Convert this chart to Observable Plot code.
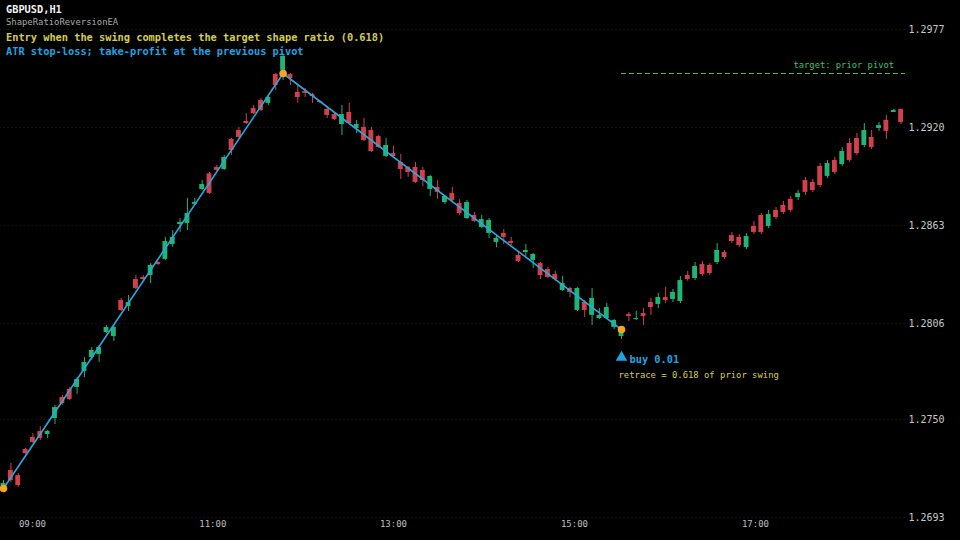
<!DOCTYPE html>
<html><head><meta charset="utf-8">
<style>
html,body{margin:0;padding:0;background:#000;width:960px;height:540px;overflow:hidden}
#wrap{position:relative;width:960px;height:540px}
.hdr{position:absolute;left:6px;white-space:pre;font-family:"DejaVu Sans Mono",monospace;line-height:1}
</style>
<script src="https://cdn.jsdelivr.net/npm/d3@7"></script>
<script src="https://cdn.jsdelivr.net/npm/@observablehq/plot@0.6"></script>
</head><body><div id="wrap"></div>
<script>
const opens=[1.27110,1.27204,1.27174,1.27326,1.27396,1.27431,1.27413,1.27506,1.27628,1.27675,1.27687,1.27780,1.27861,1.27879,1.28007,1.27983,1.28193,1.28158,1.28315,1.28327,1.28338,1.28414,1.28432,1.28519,1.28635,1.28641,1.28752,1.28839,1.28930,1.28967,1.28955,1.29130,1.29182,1.29235,1.29310,1.29357,1.29340,1.29508,1.29532,1.29508,1.29404,1.29409,1.29392,1.29351,1.29305,1.29275,1.29217,1.29287,1.29194,1.29200,1.29182,1.29147,1.29031,1.29048,1.28996,1.28967,1.28967,1.28950,1.28839,1.28851,1.28763,1.28816,1.28757,1.28670,1.28688,1.28618,1.28583,1.28531,1.28583,1.28536,1.28455,1.28472,1.28426,1.28408,1.28373,1.28344,1.28251,1.28263,1.28135,1.28181,1.28106,1.28088,1.28088,1.28036,1.27983,1.28111,1.28082,1.28117,1.28181,1.28170,1.28210,1.28199,1.28187,1.28338,1.28321,1.28402,1.28397,1.28414,1.28472,1.28571,1.28560,1.28501,1.28624,1.28688,1.28624,1.28717,1.28746,1.28781,1.28792,1.28891,1.28880,1.28973,1.28915,1.29008,1.28984,1.29107,1.29136,1.29095,1.29142,1.29194,1.29241,1.29287,1.29305];
const closes=[1.27128,1.27145,1.27116,1.27302,1.27367,1.27390,1.27431,1.27570,1.27593,1.27617,1.27733,1.27832,1.27902,1.27919,1.28036,1.28036,1.28135,1.28181,1.28263,1.28315,1.28397,1.28402,1.28536,1.28560,1.28647,1.28699,1.28763,1.28868,1.28816,1.28950,1.29025,1.29066,1.29142,1.29223,1.29281,1.29299,1.29374,1.29444,1.29613,1.29485,1.29374,1.29398,1.29380,1.29345,1.29270,1.29246,1.29275,1.29223,1.29217,1.29124,1.29060,1.29083,1.29095,1.29031,1.28955,1.28938,1.28880,1.28891,1.28915,1.28822,1.28798,1.28775,1.28699,1.28763,1.28653,1.28664,1.28659,1.28554,1.28560,1.28525,1.28420,1.28484,1.28461,1.28338,1.28327,1.28315,1.28292,1.28240,1.28263,1.28135,1.28205,1.28106,1.28152,1.28077,1.28018,1.28100,1.28088,1.28100,1.28152,1.28210,1.28193,1.28240,1.28309,1.28315,1.28391,1.28344,1.28350,1.28484,1.28443,1.28536,1.28513,1.28565,1.28589,1.28589,1.28693,1.28676,1.28705,1.28717,1.28816,1.28822,1.28833,1.28862,1.28990,1.28938,1.29060,1.29008,1.29048,1.29182,1.29083,1.29211,1.29177,1.29299,1.29229];
const highs=[1.27145,1.27244,1.27186,1.27332,1.27419,1.27460,1.27436,1.27582,1.27640,1.27687,1.27745,1.27861,1.27919,1.27931,1.28047,1.28047,1.28205,1.28222,1.28338,1.28338,1.28408,1.28420,1.28560,1.28600,1.28670,1.28787,1.28787,1.28891,1.28938,1.28979,1.29037,1.29136,1.29200,1.29281,1.29328,1.29369,1.29386,1.29514,1.29619,1.29514,1.29444,1.29427,1.29398,1.29357,1.29316,1.29281,1.29328,1.29340,1.29241,1.29252,1.29200,1.29153,1.29136,1.29089,1.29043,1.28973,1.28996,1.28967,1.28920,1.28891,1.28804,1.28851,1.28781,1.28775,1.28705,1.28688,1.28670,1.28571,1.28606,1.28560,1.28472,1.28519,1.28466,1.28414,1.28385,1.28362,1.28333,1.28269,1.28269,1.28193,1.28263,1.28146,1.28175,1.28082,1.28024,1.28123,1.28129,1.28146,1.28205,1.28234,1.28269,1.28257,1.28333,1.28362,1.28414,1.28420,1.28408,1.28525,1.28484,1.28589,1.28577,1.28583,1.28653,1.28699,1.28717,1.28734,1.28769,1.28798,1.28833,1.28909,1.28897,1.28990,1.29008,1.29025,1.29083,1.29136,1.29165,1.29223,1.29182,1.29229,1.29270,1.29305,1.29305];
const lows=[1.27099,1.27134,1.27105,1.27297,1.27361,1.27378,1.27390,1.27471,1.27582,1.27611,1.27646,1.27745,1.27844,1.27832,1.28001,1.27954,1.28129,1.28129,1.28257,1.28304,1.28292,1.28397,1.28426,1.28501,1.28589,1.28600,1.28746,1.28833,1.28810,1.28944,1.28950,1.29037,1.29136,1.29217,1.29275,1.29293,1.29328,1.29415,1.29473,1.29444,1.29340,1.29374,1.29340,1.29340,1.29252,1.29241,1.29153,1.29217,1.29165,1.29118,1.29054,1.29078,1.29025,1.29019,1.28897,1.28909,1.28874,1.28856,1.28798,1.28781,1.28752,1.28763,1.28688,1.28664,1.28647,1.28612,1.28554,1.28501,1.28519,1.28513,1.28414,1.28449,1.28379,1.28315,1.28321,1.28304,1.28245,1.28210,1.28129,1.28094,1.28047,1.28082,1.28082,1.28024,1.27966,1.28071,1.28077,1.28047,1.28106,1.28146,1.28175,1.28181,1.28175,1.28304,1.28309,1.28333,1.28338,1.28402,1.28432,1.28525,1.28501,1.28490,1.28577,1.28577,1.28612,1.28664,1.28693,1.28705,1.28775,1.28804,1.28822,1.28851,1.28903,1.28926,1.28973,1.28996,1.29037,1.29083,1.29072,1.29177,1.29130,1.29287,1.29217];
const pivotIdx=[0,38,84];
const pivotPx=[1.27099,1.29514,1.28024];
const targetPx=[1.29514];
const yTicks=[1.2693,1.2750,1.2806,1.2863,1.2920,1.2977];
const xTickPos=[3.94,28.45,53.0,77.6,102.2];
const xTickLabels=["09:00","11:00","13:00","15:00","17:00"];

const GREEN="#1fb575", RED="#d2414b", LINE="#29a8df", ORANGE="#f5a524",
      YELLOW="#d5cd4c", BLUE="#1ea4e3", TGREEN="#3fc26c";

const candles=opens.map((o,i)=>({i,o,c:closes[i],h:highs[i],l:lows[i],col:closes[i]>=o?GREEN:RED}));
const pivots=pivotIdx.map((i,k)=>({i,p:pivotPx[k]}));
const buy=[pivots[2]];
const lastIdx=opens.length-1;

const chart=Plot.plot({
  width:960,height:540,marginLeft:0,marginRight:55,marginTop:0,marginBottom:24,
  style:{background:"#000",color:"#c8c8c8",fontFamily:"'DejaVu Sans Mono',monospace"},
  x:{domain:[0,lastIdx],range:[3,900.6],label:null},
  y:{domain:[1.2693,1.2977],range:[517,29],label:null},
  color:{type:"identity"},
  marks:[
    Plot.ruleY(yTicks,{stroke:"#242424",strokeDasharray:"1,3",x1:-1,x2:lastIdx+0.6}),
    Plot.ruleX(candles,{x:"i",y1:"l",y2:"h",stroke:"col",strokeWidth:1}),
    Plot.rect(candles,{x1:d=>d.i-0.33,x2:d=>d.i+0.33,y1:"o",y2:"c",fill:"col"}),
    Plot.ruleY(targetPx,{x1:pivotIdx[2],x2:lastIdx+0.6,stroke:TGREEN,strokeDasharray:"5,3",strokeWidth:1}),
    Plot.text(targetPx,{x:lastIdx,y:d=>d,text:()=>"target: prior pivot",dx:-7,dy:-8,textAnchor:"end",fill:TGREEN,fontSize:8.8}),
    Plot.line(pivots,{x:"i",y:"p",stroke:LINE,strokeWidth:1.6}),
    Plot.dot(pivots,{x:"i",y:"p",r:3.8,fill:ORANGE}),
    Plot.dot(buy,{x:"i",y:"p",dy:28,symbol:"triangle",r:4.3,fill:BLUE}),
    Plot.text(buy,{x:"i",y:"p",text:()=>"buy 0.01",dx:8,dy:30,textAnchor:"start",fill:BLUE,fontWeight:"bold",fontSize:10.3}),
    Plot.text(buy,{x:"i",y:"p",text:()=>"retrace = 0.618 of prior swing",dx:-3,dy:46,textAnchor:"start",fill:YELLOW,fontSize:8.9}),
    Plot.axisY(yTicks,{anchor:"right",tickSize:0,tickPadding:3,tickFormat:d=>d.toFixed(4),fontSize:10,fill:"#c8c8c8",label:null}),
    Plot.axisX(xTickPos,{anchor:"bottom",tickSize:0,tickPadding:4,tickFormat:d=>xTickLabels[xTickPos.indexOf(d)],fontSize:9,fill:"#bdbdbd",label:null})
  ]
});
const wrap=document.getElementById("wrap");
wrap.appendChild(chart);
const hdr=[
  ["GBPUSD,H1",10,10.3,"bold","#f2f2f2"],
  ["ShapeRatioReversionEA",23,8.9,"normal","#a8a8a8"],
  ["Entry when the swing completes the target shape ratio (0.618)",38.5,10.3,"bold",YELLOW],
  ["ATR stop-loss; take-profit at the previous pivot",52,10.3,"bold",BLUE]
];
for(const [t,cy,fs,fw,col] of hdr){
  const d=document.createElement("div");
  d.className="hdr";d.textContent=t;
  d.style.top=(cy-fs/2-1)+"px";d.style.fontSize=fs+"px";d.style.fontWeight=fw;d.style.color=col;
  wrap.appendChild(d);
}
chart.style.position="absolute";chart.style.left="0";chart.style.top="0";
</script>
</body></html>
